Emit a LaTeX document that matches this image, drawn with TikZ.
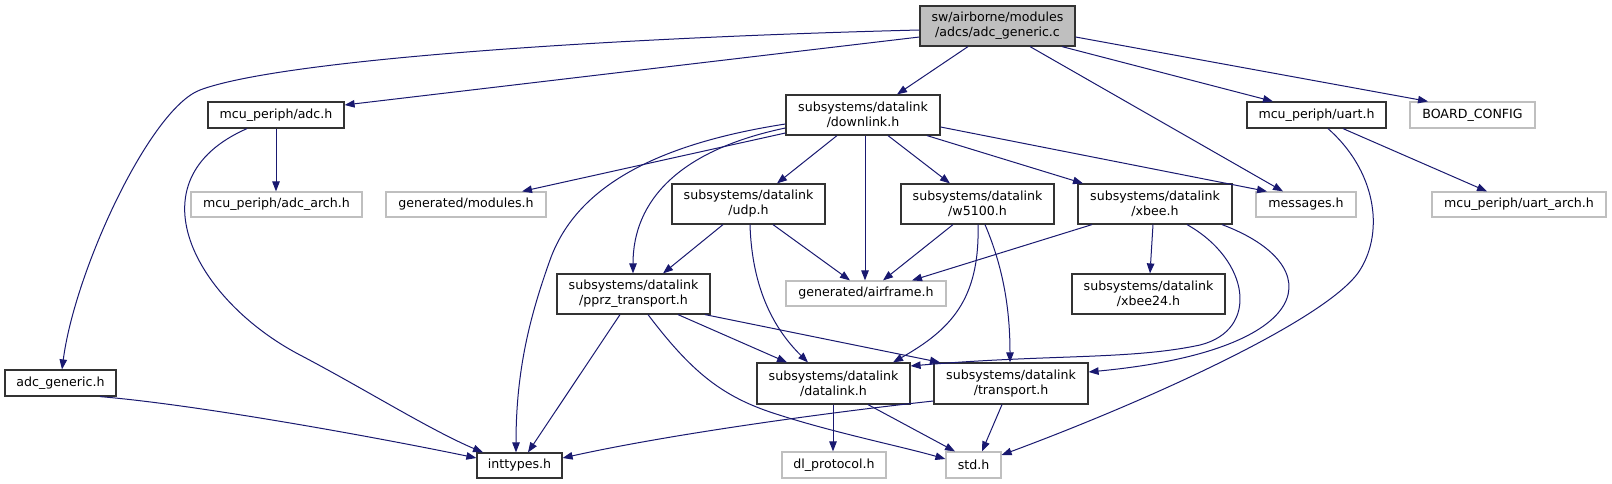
\documentclass[tikz,border=0pt]{standalone}
\usepackage{fontspec}
\setmainfont{DejaVu Sans}
\usetikzlibrary{arrows.meta,calc}
\definecolor{edgeblue}{HTML}{191970}
\definecolor{greyl}{HTML}{BFBFBF}
\definecolor{boxline}{HTML}{333333}
\tikzset{
  nodebox/.style={draw=boxline, line width=1.2pt, fill=white, inner sep=0pt, align=center,
     font=\fontsize{12.6pt}{15pt}\selectfont},
  greybox/.style={nodebox, draw=greyl},
  rootbox/.style={nodebox, fill=greyl},
  edge/.style={draw=edgeblue, line width=1pt, -{Triangle[length=10pt,width=7.5pt]}},
}
\begin{document}
\begin{tikzpicture}[x=1pt,y=-1pt]
\fill[white] (0,0) rectangle (1612,484);
\useasboundingbox (0,0) rectangle (1612,484);
% nodes
\node[rootbox, minimum width=155pt, minimum height=40pt] (root) at (997.5,26) {sw/airborne/modules\\/adcs/adc\_generic.c};
\node[nodebox, minimum width=136pt, minimum height=26pt] (adch) at (276,115) {mcu\_periph/adc.h};
\node[greybox, minimum width=171pt, minimum height=25pt] (adcarch) at (276.5,204.5) {mcu\_periph/adc\_arch.h};
\node[greybox, minimum width=160pt, minimum height=25pt] (modules) at (466,204.5) {generated/modules.h};
\node[nodebox, minimum width=154pt, minimum height=40pt] (downlink) at (863,115) {subsystems/datalink\\/downlink.h};
\node[nodebox, minimum width=153pt, minimum height=40pt] (udp) at (748.5,204) {subsystems/datalink\\/udp.h};
\node[nodebox, minimum width=153pt, minimum height=40pt] (w5100) at (977.5,204) {subsystems/datalink\\/w5100.h};
\node[nodebox, minimum width=154pt, minimum height=40pt] (xbee) at (1155,204) {subsystems/datalink\\/xbee.h};
\node[greybox, minimum width=100pt, minimum height=25pt] (messages) at (1306,204.5) {messages.h};
\node[nodebox, minimum width=139pt, minimum height=26pt] (uart) at (1316.5,115) {mcu\_periph/uart.h};
\node[greybox, minimum width=125pt, minimum height=26pt] (board) at (1472.5,115) {BOARD\_CONFIG};
\node[greybox, minimum width=174pt, minimum height=25pt] (uartarch) at (1519,204.5) {mcu\_periph/uart\_arch.h};
\node[nodebox, minimum width=153pt, minimum height=40pt] (xbee24) at (1148.5,294) {subsystems/datalink\\/xbee24.h};
\node[nodebox, minimum width=153pt, minimum height=40pt] (pprz) at (633.5,294) {subsystems/datalink\\/pprz\_transport.h};
\node[greybox, minimum width=160pt, minimum height=25pt] (airframe) at (866,293.5) {generated/airframe.h};
\node[nodebox, minimum width=153pt, minimum height=41pt] (datalink) at (833.5,383.5) {subsystems/datalink\\/datalink.h};
\node[nodebox, minimum width=154pt, minimum height=41pt] (transport) at (1011,383.5) {subsystems/datalink\\/transport.h};
\node[nodebox, minimum width=111pt, minimum height=26pt] (adcgen) at (60.5,383) {adc\_generic.h};
\node[nodebox, minimum width=85pt, minimum height=25pt] (inttypes) at (519.5,465.5) {inttypes.h};
\node[greybox, minimum width=104pt, minimum height=26pt] (dlproto) at (834,465) {dl\_protocol.h};
\node[greybox, minimum width=55pt, minimum height=26pt] (std) at (973.5,465) {std.h};
% edges from root
\draw[edge] (root.west |- 0,30) .. controls (600,38) and (280,60) .. (200,90)
   .. controls (150,109) and (75,270) .. (adcgen.north -| 62,0);
\draw[edge] (root.west |- 0,37) -- (adch.east |- 0,105);
\draw[edge] (root.south -| 968,0) -- (downlink.north -| 897,0);
\draw[edge] (root.south -| 1030,0) -- (messages.north -| 1283,0);
\draw[edge] (root.south -| 1062,0) -- (uart.north -| 1273,0);
\draw[edge] (root.east |- 0,37) -- (board.north -| 1428,0);
% adc.h
\draw[edge] (adch.south) -- (adch.south |- adcarch.north);
\draw[edge] (adch.south -| 247,0) .. controls (130,180) and (195,300) .. (300,355)
   .. controls (363,388) and (430,430) .. (inttypes.north -| 483,0);
% downlink
\draw[edge] (downlink.west |- 0,133) -- (modules.north -| 522,0);
\draw[edge] (downlink.west |- 0,124) .. controls (650,145) and (575,190) .. (550,260)
   .. controls (530,316) and (516,370) .. (inttypes.north -| 516,0);
\draw[edge] (downlink.west |- 0,128) .. controls (680,150) and (633,200) .. (pprz.north -| 633,0);
\draw[edge] (downlink.south -| 837,0) -- (udp.north -| 777,0);
\draw[edge] (downlink.south -| 865,0) -- (airframe.north -| 865,0);
\draw[edge] (downlink.south -| 888,0) -- (w5100.north -| 950,0);
\draw[edge] (downlink.south -| 927,0) -- (xbee.north -| 1083,0);
\draw[edge] (downlink.east |- 0,127) -- (messages.north -| 1267,0);
% udp
\draw[edge] (udp.south -| 723,0) -- (pprz.north -| 663,0);
\draw[edge] (udp.south -| 773,0) -- (airframe.north -| 850,0);
\draw[edge] (udp.south -| 750,0) .. controls (752,290) and (775,330) .. (datalink.north -| 808,0);
% w5100
\draw[edge] (w5100.south -| 953,0) -- (airframe.north -| 883,0);
\draw[edge] (w5100.south -| 978,0) .. controls (980,300) and (950,330) .. (datalink.north -| 893,0);
\draw[edge] (w5100.south -| 985,0) .. controls (1000,260) and (1010,300) .. (transport.north -| 1010,0);
% xbee
\draw[edge] (xbee.south -| 1092,0) -- (airframe.north -| 912,0);
\draw[edge] (xbee.south -| 1153,0) -- (xbee24.north -| 1150,0);
\draw[edge] (xbee.south -| 1187,0) .. controls (1250,260) and (1260,330) .. (1200,345)
   .. controls (1130,360) and (1050,354) .. (datalink.east |- 0,366);
\draw[edge] (xbee.south -| 1222,0) .. controls (1330,265) and (1320,350) .. (transport.east |- 0,372);
% uart
\draw[edge] (uart.south -| 1328,0) .. controls (1375,170) and (1385,230) .. (1360,270)
   .. controls (1330,318) and (1150,400) .. (std.east |- 0,455);
\draw[edge] (uart.south -| 1343,0) -- (uartarch.north -| 1487,0);
% pprz
\draw[edge] (pprz.south -| 620,0) -- (inttypes.north -| 528,0);
\draw[edge] (pprz.south -| 648,0) .. controls (690,370) and (720,395) .. (770,412)
   .. controls (830,432) and (900,446) .. (std.west |- 0,459);
\draw[edge] (pprz.south -| 678,0) -- (datalink.north -| 787,0);
\draw[edge] (pprz.south -| 705,0) -- (transport.north -| 940,0);
% datalink, transport
\draw[edge] (datalink.south -| 833,0) -- (dlproto.north -| 833,0);
\draw[edge] (datalink.south -| 868,0) -- (std.north -| 955,0);
\draw[edge] (transport.west |- 0,401) .. controls (850,410) and (680,432) .. (inttypes.east |- 0,458);
\draw[edge] (transport.south -| 1002,0) -- (std.north -| 982,0);
% adc_generic.h
\draw[edge] (adcgen.south -| 100,0) .. controls (200,405) and (380,438) .. (inttypes.west |- 0,458);
\end{tikzpicture}
\end{document}
